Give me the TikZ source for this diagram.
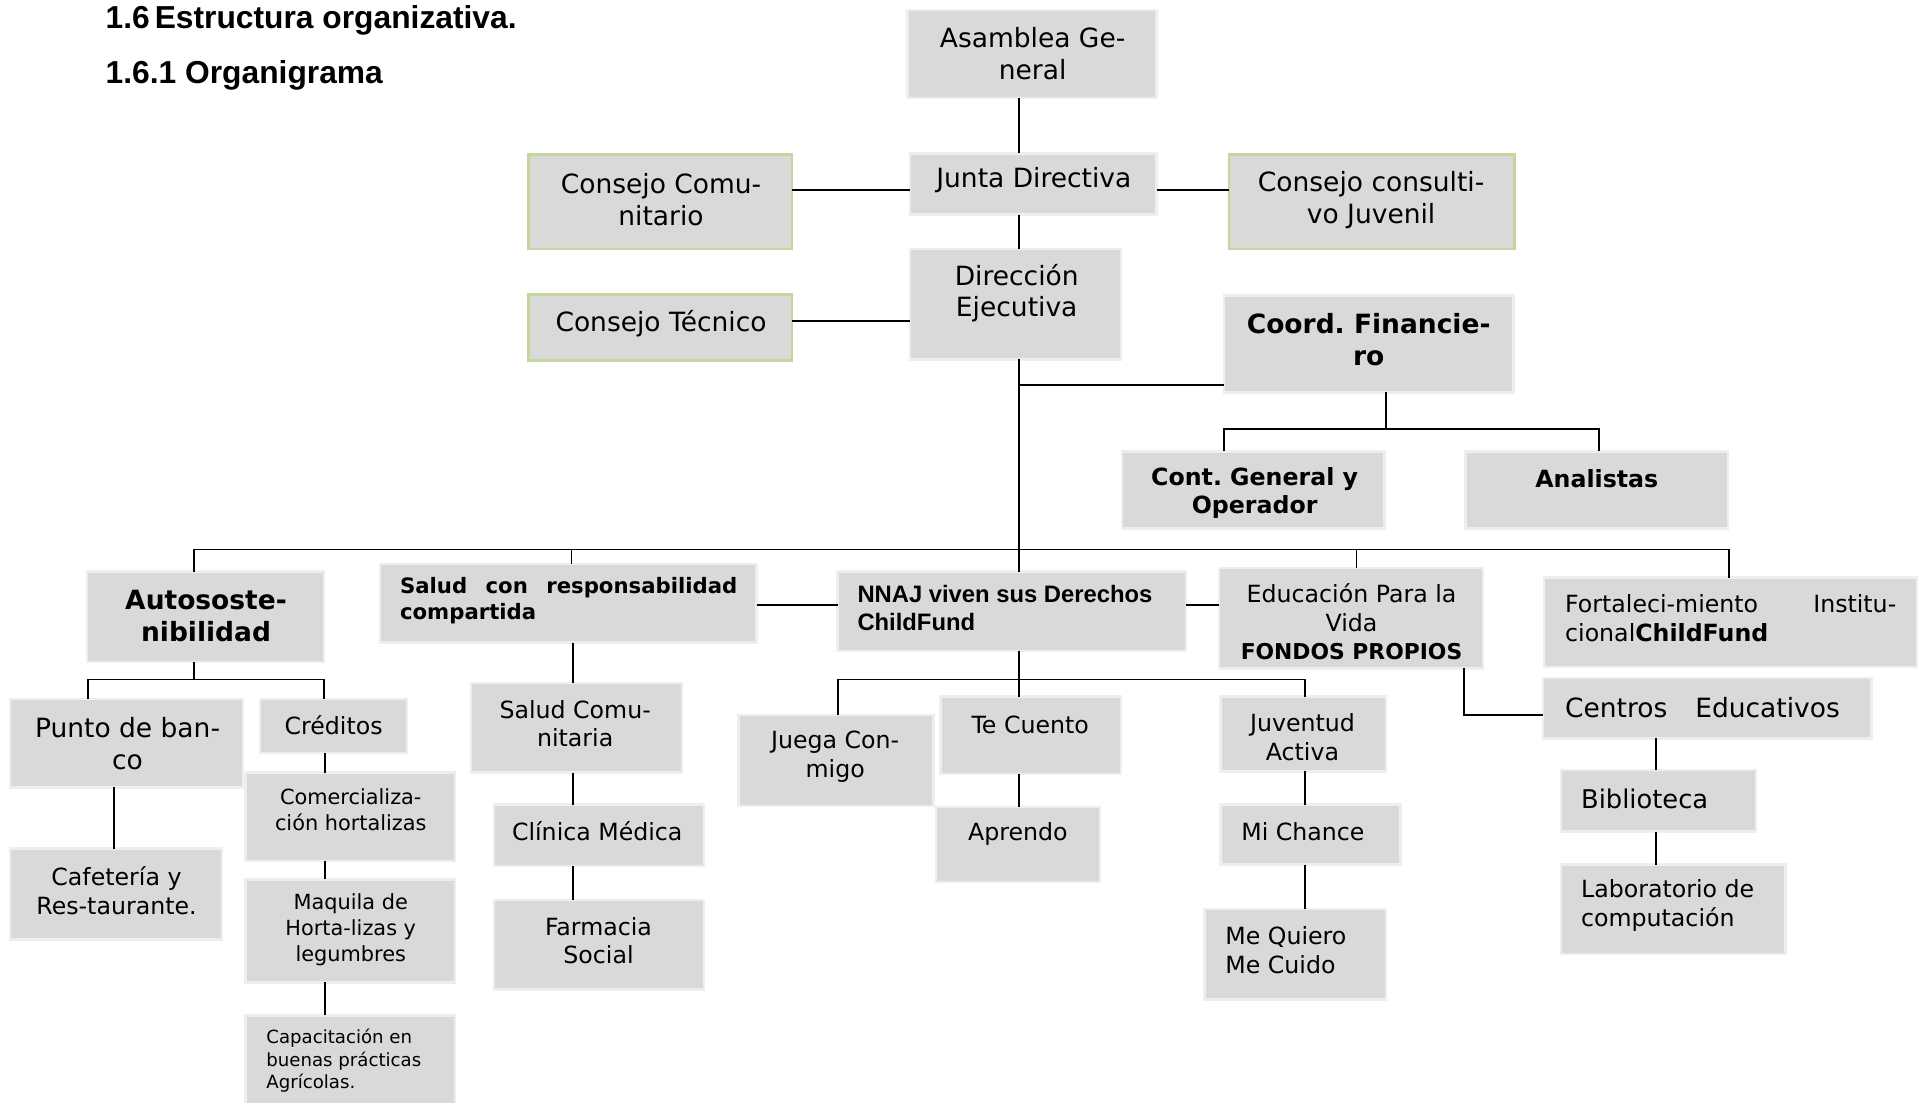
\documentclass[tikz,border=0pt]{standalone}
\usepackage{fontspec}
\setmainfont{DejaVu Sans}
\newfontfamily\arialfont{Liberation Sans}
\usetikzlibrary{fit}
\frenchspacing
\definecolor{boxgray}{HTML}{D9D9D9}
\definecolor{boxedge}{HTML}{EEEEEE}
\definecolor{greenedge}{HTML}{C3D69B}
\newcommand\orgbox[6][box]{\node[#1, fit={(#3,-#4) (#5,-#6)}] (#2) {};}
\tikzset{
  box/.style={fill=boxgray, draw=boxedge, line width=2pt, inner sep=0pt, outer sep=0pt},
  gbox/.style={box, draw=greenedge},
  txt/.style={inner sep=0pt, align=center, text=black},
  ltxt/.style={inner sep=0pt, align=left, text=black},
  link/.style={draw=black, line width=1.5pt},
  fA/.style={font=\fontsize{21.6}{26}\selectfont},
  fAb/.style={font=\fontsize{21.6}{26}\selectfont\bfseries},
  fC/.style={font=\fontsize{19.3}{23}\selectfont\bfseries},
  fS/.style={font=\fontsize{17.3}{21}\selectfont\bfseries},
  fN/.style={font=\fontsize{19.4}{23}\selectfont\arialfont\bfseries},
  fB/.style={font=\fontsize{19.3}{23.5}\selectfont},
  fM/.style={font=\fontsize{17}{21}\selectfont},
  fK/.style={font=\fontsize{14.8}{18.5}\selectfont},
  fT/.style={font=\fontsize{25.9}{30}\selectfont\arialfont\bfseries},
}
\begin{document}
\begin{tikzpicture}[x=1pt,y=1pt]
\useasboundingbox (0,0) rectangle (1568,-899);
% titles
\node[inner sep=0pt, anchor=base west, fT] (t1) at (86,-23) {\makebox[40pt][l]{1.6}Estructura organizativa.};
\node[inner sep=0pt, anchor=base west, fT] (t2) at (86,-68) {1.6.1 Organigrama};
% boxes
\orgbox{asam}{740}{8}{943}{80}
\orgbox{junta}{742}{125}{943}{175}
\orgbox[gbox]{ccom}{431}{126}{646}{203}
\orgbox[gbox]{ccons}{1002}{126}{1235}{203}
\orgbox{dir}{742}{203}{914}{293}
\orgbox[gbox]{ctec}{431}{240}{646}{294}
\orgbox{coord}{998}{241}{1234}{320}
\orgbox{cont}{915}{368}{1129}{431}
\orgbox{anal}{1195}{368}{1409}{431}
\orgbox{auto}{71}{466}{264}{540}
\orgbox{salud}{310}{460}{617}{524}
\orgbox{nnaj}{683}{466}{967}{531}
\orgbox{edu}{994}{463}{1209}{545}
\orgbox{fort}{1259}{471}{1563}{544}
\orgbox{punto}{8}{570}{198}{642}
\orgbox{cred}{212}{570}{332}{614}
\orgbox{cafe}{8}{692}{181}{766}
\orgbox{comer}{200}{630}{371}{702}
\orgbox{maq}{200}{717}{371}{801}
\orgbox{capa}{200}{828}{371}{905}
\orgbox{scom}{384}{557}{556}{630}
\orgbox{clin}{403}{656}{574}{706}
\orgbox{farm}{403}{734}{574}{807}
\orgbox{juega}{602}{583}{761}{657}
\orgbox{tecu}{767}{568}{914}{631}
\orgbox{apre}{763}{658}{897}{719}
\orgbox{juv}{995}{568}{1130}{629}
\orgbox{mich}{995}{656}{1142}{705}
\orgbox{mequ}{982}{741}{1130}{815}
\orgbox{cent}{1258}{553}{1526}{602}
\orgbox{bib}{1273}{628}{1432}{678}
\orgbox{lab}{1273}{705}{1456}{778}
% texts
\node[txt,fA] (asam-t) at (842,-44) {Asamblea Ge-\\neral};
\node[txt,fA] (junta-t) at (843,-147) {Junta Directiva};
\node[txt,fA] (ccom-t) at (539,-163) {Consejo Comu-\\nitario};
\node[txt,fA] (ccons-t) at (1118,-163) {Consejo consulti-\\vo Juvenil};
\node[txt,fA] (dir-t) at (829,-239) {Dirección\\Ejecutiva};
\node[txt,fA] (ctec-t) at (539,-264) {Consejo Técnico};
\node[txt,fAb] (coord-t) at (1116,-277) {Coord. Financie-\\ro};
\node[txt,fC] (cont-t) at (1023,-402) {Cont. General y\\Operador};
\node[txt,fC] (anal-t) at (1302,-390) {Analistas};
\node[txt,fAb] (auto-t) at (168,-502) {Autososte-\\nibilidad};
\node[ltxt,fS,anchor=west] (salud-t) at (326,-490) {\makebox[275pt][s]{Salud con responsabilidad}\\compartida};
\node[ltxt,fN,anchor=west] (nnaj-t) at (699,-496) {NNAJ viven sus Derechos\\ChildFund};
\node[txt,fB] (edu-t) at (1102,-507) {Educación Para la\\Vida\\{\fontsize{17.8}{23.5}\selectfont\bfseries FONDOS PROPIOS}};
\node[ltxt,fB,anchor=west] (fort-t) at (1276,-504) {\makebox[270pt][s]{Fortaleci-miento Institu-}\\cional\textbf{ChildFund}};
\node[txt,fA] (punto-t) at (104,-606) {Punto de ban-\\co};
\node[txt,fB] (cred-t) at (272,-591) {Créditos};
\node[txt,fB] (cafe-t) at (95,-726) {Cafetería y\\Res-taurante.};
\node[txt,fM] (comer-t) at (286,-660) {Comercializa-\\ción hortalizas};
\node[txt,fM] (maq-t) at (286,-758) {Maquila de\\Horta-lizas y\\legumbres};
\node[ltxt,fK,anchor=west] (capa-t) at (217,-865) {Capacitación en\\buenas prácticas\\Agrícolas.};
\node[txt,fB] (scom-t) at (469,-590) {Salud Comu-\\nitaria};
\node[txt,fB] (clin-t) at (487,-678) {Clínica Médica};
\node[txt,fB] (farm-t) at (488,-767) {Farmacia\\Social};
\node[txt,fB] (juega-t) at (681,-617) {Juega Con-\\migo};
\node[txt,fB] (tecu-t) at (840,-591) {Te Cuento};
\node[txt,fB] (apre-t) at (830,-680) {Aprendo};
\node[txt,fB] (juv-t) at (1062,-601) {Juventud\\Activa};
\node[ltxt,fB,anchor=west] (mich-t) at (1012,-678) {Mi Chance};
\node[ltxt,fB,anchor=west] (mequ-t) at (999,-775) {Me Quiero\\Me Cuido};
\node[ltxt,fA,anchor=west] (cent-t) at (1276,-577) {\makebox[224pt][s]{Centros Educativos}};
\node[ltxt,font=\fontsize{21}{25}\selectfont,anchor=west] (bib-t) at (1289,-651) {Biblioteca};
\node[ltxt,fB,anchor=west] (lab-t) at (1289,-738) {Laboratorio de\\computación};
% helper coordinates
\coordinate (vx) at (831,0);
\coordinate (jy) at (0,-155);
\coordinate (ty) at (0,-262);
\coordinate (cj) at (831,-314);
\coordinate (cf) at (1130,-350);
\coordinate (cfl) at (998,-350);
\coordinate (cfr) at (1304,-350);
\coordinate (b1) at (158,-448);
\coordinate (b2) at (466,-448);
\coordinate (b4) at (1106,-448);
\coordinate (b5) at (1410,-448);
\coordinate (hy) at (0,-493);
\coordinate (al) at (72,-554);
\coordinate (am) at (158,-554);
\coordinate (ar) at (264,-554);
\coordinate (px) at (93,0);
\coordinate (crx) at (265,0);
\coordinate (sx) at (467,0);
\coordinate (nl) at (683,-554);
\coordinate (nr) at (1064,-554);
\coordinate (ec) at (1194,-583);
\coordinate (cx) at (1350,0);
% connectors
\draw[link] (asam.south -| vx) -- (junta.north -| vx);
\draw[link] (ccom.east |- jy) -- (junta.west |- jy);
\draw[link] (junta.east |- jy) -- (ccons.west |- jy);
\draw[link] (junta.south -| vx) -- (dir.north -| vx);
\draw[link] (ctec.east |- ty) -- (dir.west |- ty);
\draw[link] (dir.south -| vx) -- (nnaj.north -| vx);
\draw[link] (cj) -- (coord.west |- cj);
\draw[link] (coord.south -| cf) -- (cf);
\draw[link] (cont.north -| cfl) -- (cfl) -- (cfr) -- (anal.north -| cfr);
\draw[link] (auto.north -| b1) -- (b1) -- (b5) -- (fort.north -| b5);
\draw[link] (salud.north -| b2) -- (b2);
\draw[link] (edu.north -| b4) -- (b4);
\draw[link] (salud.east |- hy) -- (nnaj.west |- hy);
\draw[link] (nnaj.east |- hy) -- (edu.west |- hy);
\draw[link] (auto.south -| am) -- (am);
\draw[link] (punto.north -| al) -- (al) -- (ar) -- (cred.north -| ar);
\draw[link] (punto.south -| px) -- (cafe.north -| px);
\draw[link] (cred.south -| crx) -- (comer.north -| crx);
\draw[link] (comer.south -| crx) -- (maq.north -| crx);
\draw[link] (maq.south -| crx) -- (capa.north -| crx);
\draw[link] (salud.south -| sx) -- (scom.north -| sx);
\draw[link] (scom.south -| sx) -- (clin.north -| sx);
\draw[link] (clin.south -| sx) -- (farm.north -| sx);
\draw[link] (nnaj.south -| vx) -- (tecu.north -| vx);
\draw[link] (juega.north -| nl) -- (nl) -- (nr) -- (juv.north -| nr);
\draw[link] (tecu.south -| vx) -- (apre.north -| vx);
\draw[link] (juv.south -| nr) -- (mich.north -| nr);
\draw[link] (mich.south -| nr) -- (mequ.north -| nr);
\draw[link] (edu.south -| ec) -- (ec) -- (cent.west |- ec);
\draw[link] (cent.south -| cx) -- (bib.north -| cx);
\draw[link] (bib.south -| cx) -- (lab.north -| cx);
\end{tikzpicture}
\end{document}
